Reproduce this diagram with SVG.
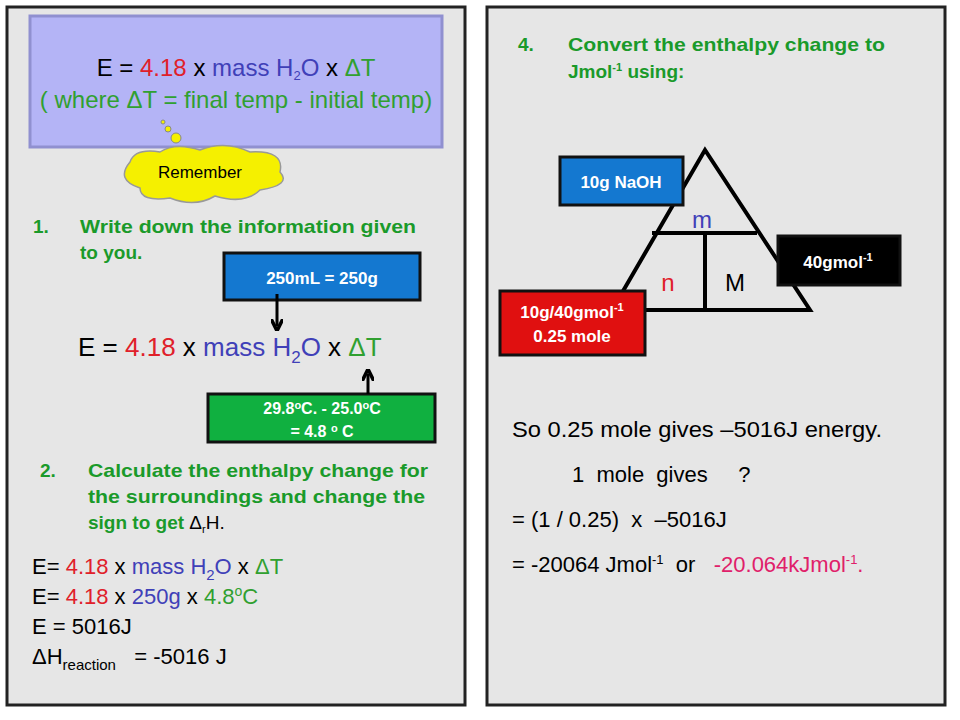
<svg xmlns="http://www.w3.org/2000/svg" width="960" height="720" viewBox="0 0 960 720">
<defs>
<style>
.t{font-family:"Liberation Sans",Arial,sans-serif}
.b{font-weight:bold}
.g{fill:#1a9a2a}
.r{fill:#e0202a}
.bl{fill:#4040b8}
.gr{fill:#30a030}
.w{fill:#fff}
.box{stroke:#111;stroke-width:3}
</style>
<marker id="ah" viewBox="0 0 10 10" refX="6" refY="5" markerWidth="4" markerHeight="4" orient="auto-start-reverse"><path d="M0,0 L10,5 L0,10" fill="none" stroke="#000" stroke-width="3"/></marker>
</defs>
<rect width="960" height="720" fill="#fff"/>
<g id="panel-left"><rect x="7" y="7" width="458" height="698" fill="#e6e6e6" stroke="#222" stroke-width="3"/></g>
<g id="panel-right"><rect x="487" y="7" width="458" height="698" fill="#e6e6e6" stroke="#222" stroke-width="3"/></g>
<g id="remember-box">
<rect x="30" y="16" width="412" height="131" fill="#b4b4f6" stroke="#9090d0" stroke-width="3"/>
<text class="t" x="236" y="76" font-size="24" text-anchor="middle">E = <tspan class="r">4.18</tspan> x <tspan class="bl">mass H<tspan font-size="13" dy="4">2</tspan><tspan dy="-4">O</tspan></tspan> x <tspan class="gr">ΔT</tspan></text>
<text class="t gr" x="236" y="108" font-size="24" text-anchor="middle">( where ΔT = final temp - initial temp)</text>
</g>
<g id="cloud">
<circle cx="163" cy="122" r="2" fill="#f5f000" stroke="#888"/>
<circle cx="168" cy="129" r="3" fill="#f5f000" stroke="#888"/>
<circle cx="176" cy="138" r="5" fill="#f5f000" stroke="#888"/>
<path d="M130,162 Q135,148 160,152 Q175,142 200,150 Q225,140 250,152 Q285,150 280,172 Q292,185 260,190 Q245,205 215,196 Q195,208 170,198 Q140,202 140,188 Q115,180 130,162 Z" fill="#f5f000" stroke="#999" stroke-width="1.5"/>
<text class="t" x="200" y="178" font-size="17" text-anchor="middle">Remember</text>
</g>
<g id="step1">
<text class="t b g" x="33" y="233" font-size="19">1.</text>
<text class="t b g" x="80" y="233" font-size="19" textLength="336" lengthAdjust="spacingAndGlyphs">Write down the information given</text>
<text class="t b g" x="80" y="259" font-size="19">to you.</text>
</g>
<g id="mass-box"><rect class="box" x="224" y="253" width="196" height="47" fill="#1478d0"/><text class="t b w" x="322" y="284" font-size="17" text-anchor="middle">250mL = 250g</text></g>
<g id="formula">
<text class="t" x="78" y="356" font-size="26">E = <tspan class="r">4.18</tspan> x <tspan class="bl">mass H<tspan font-size="17" dy="7">2</tspan><tspan dy="-7">O</tspan></tspan> x <tspan class="gr">ΔT</tspan></text>
</g>
<g id="temp-box"><rect class="box" x="208" y="394" width="227" height="48" fill="#10b040"/>
<text class="t b w" x="322" y="414" font-size="16" text-anchor="middle">29.8<tspan font-size="11" dy="-5">o</tspan><tspan dy="5">C. - 25.0</tspan><tspan font-size="11" dy="-5">o</tspan><tspan dy="5">C</tspan></text>
<text class="t b w" x="322" y="437" font-size="16" text-anchor="middle">= 4.8 <tspan font-size="11" dy="-5">o</tspan><tspan dy="5">  C</tspan></text></g>
<g id="connectors" stroke="#000" stroke-width="3" fill="none">
<line x1="277" y1="294" x2="277" y2="326" marker-end="url(#ah)"/>
<line x1="368" y1="394" x2="368" y2="374" marker-end="url(#ah)"/>
</g>
<g id="step2">
<text class="t b g" x="40" y="477" font-size="19">2.</text>
<text class="t b g" x="88" y="477" font-size="19" textLength="340" lengthAdjust="spacingAndGlyphs">Calculate the enthalpy change for</text>
<text class="t b g" x="88" y="503" font-size="19" textLength="337" lengthAdjust="spacingAndGlyphs">the surroundings and change the</text>
<text class="t g" x="88" y="529" font-size="19"><tspan font-weight="bold">sign to get </tspan><tspan fill="#000">Δ<tspan font-size="11" dy="4">r</tspan><tspan dy="-4">H.</tspan></tspan></text>
</g>
<g id="calc">
<text class="t" x="32" y="574" font-size="22">E= <tspan class="r">4.18</tspan> x <tspan class="bl">mass H<tspan font-size="15" dy="6">2</tspan><tspan dy="-6">O</tspan></tspan> x <tspan class="gr">ΔT</tspan></text>
<text class="t" x="32" y="604" font-size="22">E= <tspan class="r">4.18</tspan> x <tspan class="bl">250g</tspan> x <tspan class="gr">4.8<tspan font-size="14" dy="-8">o</tspan><tspan dy="8">C</tspan></tspan></text>
<text class="t" x="32" y="634" font-size="22">E = 5016J</text>
<text class="t" x="32" y="664" font-size="22" xml:space="preserve">ΔH<tspan font-size="15" dy="6">reaction</tspan><tspan dy="-6">   = -5016 J</tspan></text>
</g>
<g id="step4">
<text class="t b g" x="518" y="51" font-size="19">4.</text>
<text class="t b g" x="568" y="51" font-size="19" textLength="317" lengthAdjust="spacingAndGlyphs">Convert the enthalpy change to</text>
<text class="t b g" x="568" y="78" font-size="19">Jmol<tspan font-size="11" dy="-7">-1</tspan><tspan dy="7"> using:</tspan></text>
</g>
<g id="triangle" fill="none" stroke="#000" stroke-width="4">
<path d="M705,150 L612,310 L810,310 Z"/>
<line x1="652" y1="233" x2="757" y2="233"/>
<line x1="705" y1="233" x2="705" y2="310"/>
<text class="t bl" x="702" y="228" font-size="24" text-anchor="middle" stroke="none">m</text>
<text class="t r" x="668" y="291" font-size="24" text-anchor="middle" stroke="none">n</text>
<text class="t" x="735" y="291" font-size="24" text-anchor="middle" stroke="none" fill="#000">M</text>
</g>
<g id="naoh-box"><rect class="box" x="560" y="157" width="123" height="48" fill="#1478d0"/><text class="t b w" x="621" y="188" font-size="17" text-anchor="middle">10g NaOH</text></g>
<g id="molar-box"><rect class="box" x="778" y="236" width="122" height="49" fill="#000"/><text class="t b w" x="838" y="268" font-size="17" text-anchor="middle">40gmol<tspan font-size="11" dy="-7">-1</tspan></text></g>
<g id="moles-box"><rect class="box" x="500" y="291" width="145" height="64" fill="#e01010"/>
<text class="t b w" x="572" y="318" font-size="17" text-anchor="middle">10g/40gmol<tspan font-size="11" dy="-7">-1</tspan></text>
<text class="t b w" x="572" y="342" font-size="17" text-anchor="middle">0.25 mole</text></g>
<g id="answer">
<text class="t" x="512" y="437" font-size="22" textLength="370" lengthAdjust="spacingAndGlyphs">So 0.25 mole gives –5016J energy.</text>
<text class="t" x="572" y="482" font-size="22" xml:space="preserve">1  mole  gives     ?</text>
<text class="t" x="512" y="527" font-size="22" xml:space="preserve">= (1 / 0.25)  x  –5016J</text>
<text class="t" x="512" y="572" font-size="22" xml:space="preserve">= -20064 Jmol<tspan font-size="13" dy="-8">-1</tspan><tspan dy="8">  or   </tspan><tspan fill="#e0206a">-20.064kJmol<tspan font-size="13" dy="-8">-1</tspan><tspan dy="8">.</tspan></tspan></text>
</g>
</svg>
